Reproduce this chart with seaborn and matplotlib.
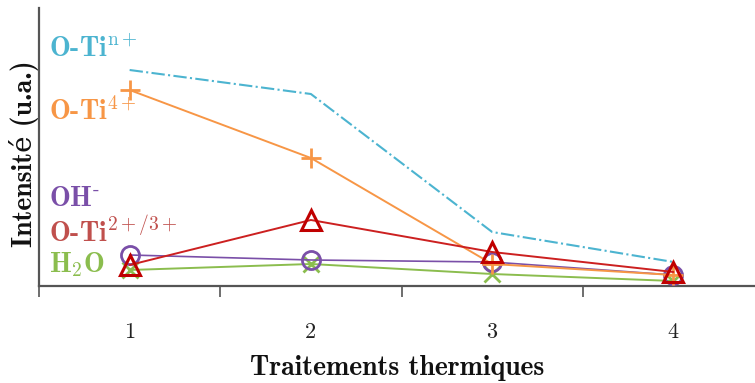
import numpy as np
import pandas as pd
import matplotlib
matplotlib.use('Agg')
import matplotlib.pyplot as plt
import seaborn as sns

# Intensités (u.a.)
traitements = [1, 2, 3, 4]
o_ti_n = [216, 192, 54, 24]
o_ti_4 = [196, 128, 22, 11]
o_ti_23 = [21, 66, 34, 14]
oh = [31, 26, 24, 11]
h2o = [16, 22, 12, 5]

labels = [r'O-Ti$^{\mathrm{n+}}$', r'O-Ti$^{\mathrm{4+}}$', r'OH$^{\text{-}}$',
          r'O-Ti$^{\mathrm{2+/3+}}$', r'H$_{\mathrm{2}}$O']

sns.set_style('white')
plt.rcParams['mathtext.fontset'] = 'cm'
plt.rcParams['axes.unicode_minus'] = False

fig = plt.figure(figsize=(7.55, 3.83), dpi=100)
ax = fig.add_axes([39 / 755, 1 - 286 / 383, 1 - 39 / 755, 278 / 383])

c_cyan = '#4cb4d0'
c_orange = '#f79646'
c_purple = '#7a4fa8'
c_red = '#c00000'
c_green = '#8bbd4e'

sns.lineplot(x=traitements, y=h2o, ax=ax, color=c_green, lw=1.4, marker='x',
             markersize=11, markeredgecolor=c_green, markeredgewidth=2, zorder=2)
sns.lineplot(x=traitements, y=oh, ax=ax, color=c_purple, lw=1.2, marker='o',
             markersize=13, markerfacecolor='none', markeredgecolor=c_purple,
             markeredgewidth=2, zorder=3)
sns.lineplot(x=traitements, y=o_ti_4, ax=ax, color=c_orange, lw=1.4, marker='+',
             markersize=14, markeredgecolor=c_orange, markeredgewidth=2, zorder=4)
sns.lineplot(x=traitements, y=o_ti_n, ax=ax, color=c_cyan, lw=1.5, linestyle='-.',
             zorder=4)
sns.lineplot(x=traitements, y=o_ti_23, ax=ax, color='#cc2020', lw=1.4, marker='^',
             markersize=14, markerfacecolor='none', markeredgecolor=c_red,
             markeredgewidth=2.2, zorder=5)

ax.set_xlim(0.5, 4.45)
ax.set_ylim(0, 278)

for s in ['top', 'right']:
    ax.spines[s].set_visible(False)
for s in ['left', 'bottom']:
    ax.spines[s].set_color('#555555')
    ax.spines[s].set_linewidth(1.6)

ax.set_yticks([])
ax.set_xticks([0.5, 1.5, 2.5, 3.5])
ax.set_xticklabels([])
ax.tick_params(axis='x', which='major', direction='out', length=8, width=1.2,
               color='#555555', bottom=True)
ax.set_xticks(traitements, minor=True)
ax.set_xticklabels([str(t) for t in traitements], minor=True, family='cmr10',
                   fontsize=16)
ax.tick_params(axis='x', which='minor', length=0, pad=26, labelcolor='#222222')

ax.set_xlabel('Traitements thermiques', family=['cmb10', 'DejaVu Serif'],
              fontsize=20, color='#111111')
ax.xaxis.set_label_coords(0.5, (286 - 355) / 278)
ax.set_ylabel('Intensité (u.a.)', family=['cmb10', 'DejaVu Serif'],
              fontsize=20, color='#111111')
ax.yaxis.set_label_coords((39 - 39) / 716, (286 - 154) / 278)

label_pos = [(49, 49), (49, 112), (49, 199), (49, 232), (49, 265)]
label_col = [c_cyan, c_orange, c_purple, '#c0504d', c_green]
for lab, (px, py), col in zip(labels, label_pos, label_col):
    fig.text(px / 755, 1 - py / 383, lab, family='cmb10', fontsize=20,
             color=col, va='center', ha='left')

fig.savefig('out.png', dpi=100)
